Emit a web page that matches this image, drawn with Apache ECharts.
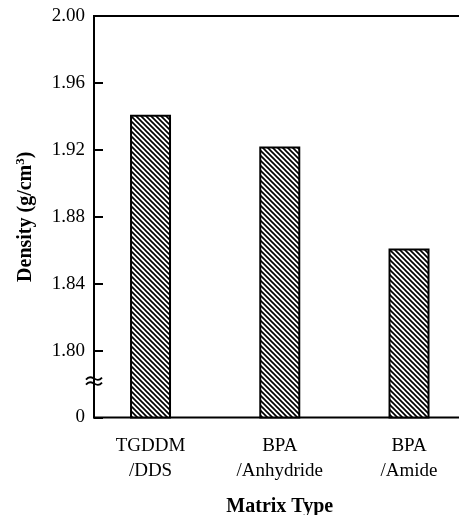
<!DOCTYPE html>
<html><head><meta charset="utf-8">
<script src="https://cdn.jsdelivr.net/npm/echarts@6/dist/echarts.min.js"></script>
<style>html,body{margin:0;padding:0;background:#fff}#c{width:459px;height:515px}</style>
</head><body><div id="c"></div>
<script>
var categories = ['TGDDM\n/DDS', 'BPA\n/Anhydride', 'BPA\n/Amide'];
var densities = [1.941, 1.922, 1.861];
var yMin = 1.76, yMax = 2.00, yStep = 0.04;

function hatch() {
  var s = 5, c = document.createElement('canvas');
  c.width = s; c.height = s;
  var g = c.getContext('2d');
  g.fillStyle = '#fff'; g.fillRect(0, 0, s, s);
  g.strokeStyle = '#000'; g.lineWidth = 1.7;
  for (var k = -1; k <= 1; k++) {
    g.beginPath(); g.moveTo(k * s - 1, -1); g.lineTo(k * s + s + 1, s + 1); g.stroke();
  }
  return c;
}
var font = 'Liberation Serif';
var chart = echarts.init(document.getElementById('c'));
chart.setOption({
  animation: false,
  grid: [
    {left: 94, width: 375, top: 16, bottom: 97.5, show: true, borderColor: '#000', borderWidth: 2,
     backgroundColor: 'transparent', containLabel: false, outerBoundsMode: 'none'},
    {left: 85.9, width: 387.75, top: 16, bottom: 97.5, containLabel: false, outerBoundsMode: 'none'}
  ],
  xAxis: [
    {gridIndex: 0, type: 'value', show: false},
    {gridIndex: 1, type: 'category', data: categories,
     axisLine: {show: false}, axisTick: {show: false},
     axisLabel: {margin: 16, fontFamily: font, fontSize: 19, color: '#000', lineHeight: 25},
     name: 'Matrix Type', nameLocation: 'middle', nameGap: 79,
     nameTextStyle: {fontFamily: font, fontSize: 20, fontWeight: 'bold', color: '#000'}}
  ],
  yAxis: [
    {gridIndex: 0, type: 'value', min: yMin, max: yMax, interval: yStep,
     axisLine: {show: true, lineStyle: {color: '#000', width: 2}},
     axisTick: {show: true, inside: true, length: 9, lineStyle: {color: '#000', width: 2}},
     splitLine: {show: false},
     axisLabel: {margin: 9, fontFamily: font, fontSize: 19, color: '#000',
       formatter: function (v) { return v < yMin + 0.01 ? '0' : v.toFixed(2); }},
     name: '{a|Density (g/cm}{s|3}{a|)}', nameLocation: 'middle', nameGap: 57, nameRotate: 90,
     nameTextStyle: {rich: {
       a: {fontFamily: font, fontSize: 20, fontWeight: 'bold', color: '#000'},
       s: {fontFamily: font, fontSize: 13, fontWeight: 'bold', color: '#000', verticalAlign: 'top', padding: [0, 0, 10, 0]}
     }}},
    {gridIndex: 1, type: 'value', min: yMin, max: yMax, interval: yStep, show: false}
  ],
  series: [{
    type: 'bar', xAxisIndex: 1, yAxisIndex: 1, data: densities, barWidth: 41,
    itemStyle: {color: {image: hatch(), repeat: 'repeat'}, borderColor: '#000', borderWidth: 2}
  }]
});
var by = chart.convertToPixel({yAxisIndex: 0}, yMin + yStep / 2) - 3;
var ax = 94;
function tilde(y) {
  return {type: 'bezierCurve', shape: {x1: ax - 8, y1: y + 1, cpx1: ax - 2, cpy1: y - 6, cpx2: ax + 2, cpy2: y + 6, x2: ax + 8, y2: y - 1},
    style: {stroke: '#000', lineWidth: 1.8, fill: null}, z: 10};
}
chart.setOption({graphic: [tilde(by - 2.5), tilde(by + 2.5)]});
</script></body></html>
